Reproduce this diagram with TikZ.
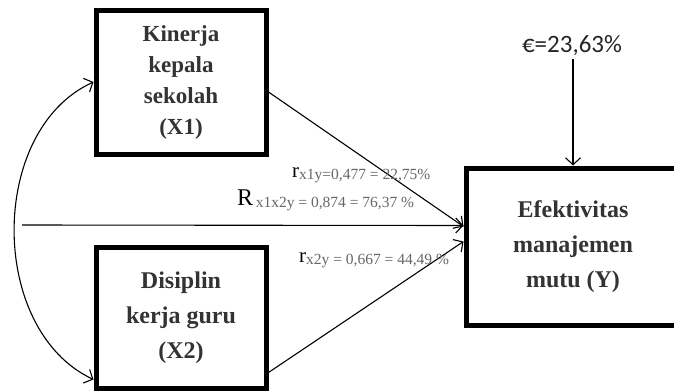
\documentclass[tikz,border=0pt]{standalone}
\usepackage{fontspec}
\setmainfont{Liberation Serif}
\newfontfamily\calfont{Carlito}
\usetikzlibrary{arrows.meta,positioning}
\tikzset{%
  >={Straight Barb[length=7pt,width=15pt]},
  var/.style={draw,line width=5pt,rectangle,inner sep=0pt,align=center,
    font=\fontsize{24}{35}\selectfont\bfseries,text=black!80},
  path/.style={draw,line width=1.1pt,->},
  coef/.style={inner sep=0pt,anchor=base west}
}
% coefficient label: big letter, small grey index
\newcommand{\coeftxt}[3]{{\fontsize{#3}{#3}\selectfont #1}%
  \raisebox{-2pt}{\fontsize{15.5}{16}\selectfont\color{black!60}#2}}

\begin{document}
\begin{tikzpicture}[x=1pt,y=-1pt]
	\useasboundingbox (0,0) rectangle (674,391);
	\node[var,minimum width=170pt,minimum height=144pt,
	  font=\fontsize{23}{31}\selectfont\bfseries] (x1) at (181,82)
	  {Kinerja\\kepala\\sekolah\\(X1)};
	\node[var,minimum width=170pt,minimum height=141pt] (x2) at (181,317.5)
	  {Disiplin\\kerja guru\\(X2)};
	\node[var,minimum width=214pt,minimum height=157pt] (y) at (573,246.5)
	  {Efektivitas\\manajemen\\mutu (Y)};
	\node[inner sep=0pt,font=\calfont\fontsize{25}{25}\selectfont,text=black!85]
	  (eps) at (572,46) {€=23,63\%};
	\coordinate (start) at (22,225);
	% paths
	\draw[path] ([yshift=-10pt]x1.east) -- ([yshift=20pt]y.west);
	\draw[path] (start) -- ([yshift=21pt]y.west);
	\draw[path] ([yshift=-55pt]x2.east) -- ([yshift=5pt]y.west);
	\draw[path] ([yshift=-3pt]eps.south -| y.north) -- (y.north);
	\draw[line width=1.1pt,<->] (x1.west) .. controls (-12,130) and (-12,330)
	  .. ([yshift=11pt]x2.south west);
	% labels
	\node[coef] (r1) at (292,177) {\coeftxt{r}{x1y=0,477 = 22,75\%}{21}};
	\node[coef] (rr) at (237,205) {\coeftxt{R}{\,x1x2y = 0,874 = 76,37 \%}{24}};
	\node[coef] (r2) at (299,262) {\coeftxt{r}{x2y = 0,667 = 44,49 \%}{21}};
\end{tikzpicture}
\end{document}
